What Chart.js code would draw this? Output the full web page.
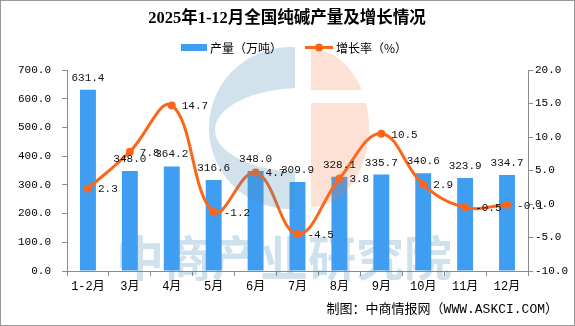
<!DOCTYPE html>
<html>
<head>
<meta charset="utf-8">
<script src="https://cdn.jsdelivr.net/npm/chart.js@4"></script>
<style>
  body { margin: 0; background: #fff; }
  canvas { display: block; }
</style>
</head>
<body>
<canvas id="myChart" width="575" height="326"></canvas>
<script>
// data
const months = ["1-2月", "3月", "4月", "5月", "6月", "7月", "8月", "9月", "10月", "11月", "12月"];
const output = [631.4, 348.0, 364.2, 316.6, 348.0, 309.9, 328.1, 335.7, 340.6, 323.9, 334.7];
const growth = [2.3, 7.8, 14.7, -1.2, 4.7, -4.5, 3.8, 10.5, 2.9, -0.5, -0.1];

const barColor = "#3f9ef1";
const lineColor = "#fb661b";
const axisColor = "#8c8c8c";
const numFont = '"Liberation Mono", "Noto Sans CJK SC", monospace';
const cjkFont = '"Noto Sans CJK SC", sans-serif';

// watermark, title, legend, labels, footer
const decorPlugin = {
  id: 'decor',
  beforeDatasetsDraw(chart) {
    const ctx = chart.ctx;
    ctx.save();
    ctx.font = 'bold 48px ' + cjkFont;
    ctx.fillStyle = "rgba(70,140,185,0.26)";
    ctx.textAlign = 'left';
    ctx.textBaseline = 'middle';
    ctx.fillText("中商产业研究院", 116, 258);
    ctx.restore();
  },
  afterDatasetsDraw(chart) {
    const ctx = chart.ctx;
    ctx.save();
    // logo watermark
    ctx.beginPath();
    ctx.rect(0, 0, 295, 326);
    ctx.clip();
    ctx.beginPath();
    ctx.arc(290, 128, 81, 0, Math.PI * 2);
    ctx.ellipse(302, 130, 87, 42, 0, 0, Math.PI * 2);
    ctx.fillStyle = "rgba(70,140,185,0.25)";
    ctx.fill('evenodd');
    ctx.restore();

    ctx.save();
    ctx.beginPath();
    ctx.rect(311, 0, 100, 90);
    ctx.rect(311, 103, 100, 200);
    ctx.clip();
    ctx.beginPath();
    ctx.ellipse(311, 128, 58, 79, 0, -Math.PI / 2, Math.PI / 2);
    ctx.closePath();
    ctx.fillStyle = "rgba(240,120,60,0.22)";
    ctx.fill();
    ctx.restore();

    // value labels
    ctx.save();
    ctx.font = '11px ' + numFont;
    ctx.fillStyle = "#111";
    ctx.textBaseline = 'middle';
    const barMeta = chart.getDatasetMeta(1);
    ctx.textAlign = 'center';
    barMeta.data.forEach((el, i) => {
      ctx.fillText(output[i].toFixed(1), el.x, el.y - 12);
    });
    const lineMeta = chart.getDatasetMeta(0);
    ctx.textAlign = 'left';
    lineMeta.data.forEach((el, i) => {
      ctx.fillText(growth[i].toFixed(1), el.x + 10, el.y + 1);
    });
    ctx.restore();
  },
  afterDraw(chart) {
    const ctx = chart.ctx;
    ctx.save();
    // title
    ctx.font = 'bold 16.5px "Liberation Serif", ' + cjkFont;
    ctx.fillStyle = "#000";
    ctx.textAlign = 'center';
    ctx.textBaseline = 'middle';
    ctx.fillText("2025年1-12月全国纯碱产量及增长情况", 287, 19);

    // legend
    ctx.font = '12px ' + cjkFont;
    ctx.textAlign = 'left';
    ctx.fillStyle = barColor;
    ctx.fillRect(181, 44, 26, 7);
    ctx.fillStyle = "#000";
    ctx.fillText("产量（万吨）", 210, 48);
    ctx.strokeStyle = lineColor;
    ctx.lineWidth = 3;
    ctx.beginPath();
    ctx.moveTo(305, 47.5);
    ctx.lineTo(333, 47.5);
    ctx.stroke();
    ctx.fillStyle = lineColor;
    ctx.beginPath();
    ctx.arc(319, 47.5, 4, 0, Math.PI * 2);
    ctx.fill();
    ctx.fillStyle = "#000";
    ctx.fillText("增长率（%）", 336, 48);

    // footer
    ctx.font = '13px ' + numFont;
    ctx.textAlign = 'right';
    ctx.fillText("制图：中商情报网（WWW.ASKCI.COM）", 558, 310);

    // frame
    ctx.strokeStyle = "#999";
    ctx.lineWidth = 1;
    ctx.strokeRect(0.5, 0.5, 574, 325);
    ctx.restore();
  }
};

const ctx = document.getElementById("myChart").getContext('2d');
const myChart = new Chart(ctx, {
  data: {
    labels: months,
    datasets: [{
      type: 'line',
      label: "增长率（%）",
      data: growth,
      yAxisID: 'y2',
      borderColor: lineColor,
      backgroundColor: lineColor,
      borderWidth: 3,
      pointRadius: 4,
      pointBackgroundColor: lineColor,
      pointBorderWidth: 0,
      tension: 0.4,
      order: 0
    }, {
      type: 'bar',
      label: "产量（万吨）",
      data: output,
      yAxisID: 'y',
      backgroundColor: barColor,
      barPercentage: 0.76,
      categoryPercentage: 0.5,
      order: 1
    }]
  },
  options: {
    responsive: false,
    animation: false,
    layout: {
      padding: { left: 0, right: 0, top: 70, bottom: 0 }
    },
    scales: {
      x: {
        offset: true,
        afterFit: s => { s.height = 55; },
        grid: {
          display: true,
          offset: true,
          drawOnChartArea: false,
          tickLength: 5,
          color: axisColor
        },
        border: { color: axisColor },
        ticks: {
          color: "#000",
          padding: 4,
          font: { family: numFont, size: 12 }
        }
      },
      y: {
        position: 'left',
        min: 0,
        max: 700,
        afterFit: s => { s.width = 67; },
        ticks: {
          stepSize: 100,
          color: "#000",
          padding: 11,
          font: { family: numFont, size: 11 },
          callback: v => v.toFixed(1)
        },
        grid: {
          drawOnChartArea: false,
          tickLength: 5,
          color: axisColor
        },
        border: { color: axisColor }
      },
      y2: {
        position: 'right',
        min: -10,
        max: 20,
        afterFit: s => { s.width = 47; },
        ticks: {
          stepSize: 5,
          color: "#000",
          padding: 2,
          font: { family: numFont, size: 11 },
          callback: v => v.toFixed(1)
        },
        grid: {
          drawOnChartArea: false,
          tickLength: 5,
          color: axisColor
        },
        border: { color: axisColor }
      }
    },
    plugins: {
      legend: { display: false },
      title: { display: false },
      tooltip: { enabled: false }
    }
  },
  plugins: [decorPlugin]
});
</script>
</body>
</html>
